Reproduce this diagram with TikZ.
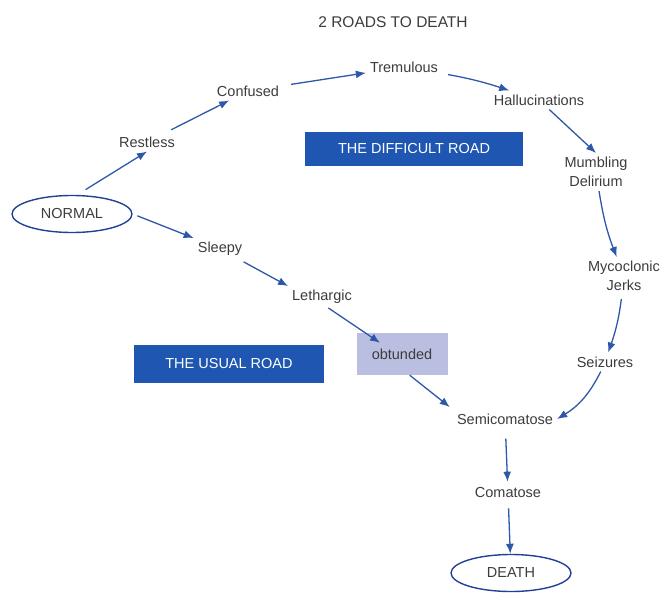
\documentclass[tikz,border=0pt]{standalone}
\usepackage{fontspec}
\setmainfont{Liberation Sans}
\usepackage{xcolor}
\usetikzlibrary{arrows.meta,shapes.geometric}

\definecolor{arrowblue}{RGB}{45,88,168}
\definecolor{boxblue}{RGB}{30,86,178}
\definecolor{ovalblue}{RGB}{36,64,150}
\definecolor{obtfill}{RGB}{186,191,226}
\definecolor{txtgray}{RGB}{60,60,60}

\begin{document}
\begin{tikzpicture}[x=1pt,y=-1pt,
  lbl/.style={text=txtgray,font=\fontsize{14.5pt}{19pt}\selectfont,inner sep=4pt},
  roadbox/.style={fill=boxblue,text=white,font=\fontsize{14.5pt}{17pt}\selectfont},
  endstate/.style={ellipse,draw=ovalblue,line width=1.4pt,text=txtgray,
    font=\fontsize{14.5pt}{17pt}\selectfont,minimum width=120pt,minimum height=37pt,inner sep=0pt},
  road/.style={draw=arrowblue,line width=1.3pt,-{Latex[length=10pt,width=8pt]}}]
\useasboundingbox (0,0) rectangle (660,593);
\node[lbl,font=\fontsize{15.5pt}{18pt}\selectfont] (title) at (393,22) {2 ROADS TO DEATH};
\node[lbl] (tremulous) at (404,67) {Tremulous};
\node[lbl] (confused) at (248,91) {Confused};
\node[lbl] (halluc) at (539,100) {Hallucinations};
\node[lbl] (restless) at (147,142) {Restless};
\node[roadbox,minimum width=218pt,minimum height=34pt] (difficult) at (414,149) {THE DIFFICULT ROAD};
\node[lbl,align=center] (delirium) at (596,172) {Mumbling\\Delirium};
\node[endstate] (normal) at (72,214) {NORMAL};
\node[lbl] (sleepy) at (220,249) {Sleepy};
\node[lbl,align=center] (jerks) at (624,276) {Mycoclonic\\Jerks};
\node[lbl] (lethargic) at (322,297) {Lethargic};
\node[lbl,fill=obtfill,minimum width=91pt,minimum height=42pt] (obtunded) at (402,354) {obtunded};
\node[roadbox,minimum width=190pt,minimum height=38pt] (usual) at (229,364) {THE USUAL ROAD};
\node[lbl] (seizures) at (605,362) {Seizures};
\node[lbl] (semi) at (505,419) {Semicomatose};
\node[lbl] (comatose) at (508,493) {Comatose};
\node[endstate] (death) at (511,573) {DEATH};
% the difficult road
\draw[road,shorten <=10pt] (normal.75) -- (restless.south);
\draw[road,shorten <=6pt] (restless) -- (confused);
\draw[road,shorten <=8pt] (confused) -- (tremulous);
\draw[road,shorten <=6pt] (tremulous) to[bend left=4] (halluc);
\draw[road] (halluc) -- (delirium.north);
\draw[road] (delirium) to[bend right=6] (jerks);
\draw[road,shorten <=4pt] (jerks) to[bend left=6] (seizures);
\draw[road] (seizures) to[bend left=16] (semi.east);
% the usual road
\draw[road,shorten <=5pt] (normal.east) -- (sleepy.north west);
\draw[road,shorten <=4pt] (sleepy) -- (lethargic.north west);
\draw[road] (lethargic.-60) -- ([xshift=-22pt,yshift=-10pt]obtunded.north);
\draw[road,shorten >=4pt] (obtunded.-70) -- (semi.north west);
\draw[road,shorten <=10pt,shorten >=2pt] (semi) -- (comatose);
\draw[road,shorten <=6pt] (comatose) -- (death);
\end{tikzpicture}
\end{document}
